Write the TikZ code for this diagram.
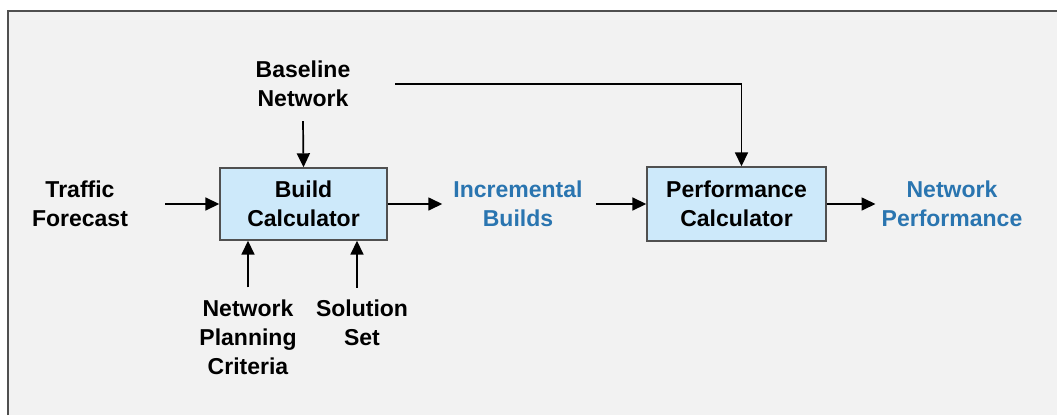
\documentclass[tikz,border=0pt]{standalone}
\usepackage{fontspec}
\setmainfont{Liberation Sans}
\usepackage{xcolor}
\usepackage{tikz}
\usetikzlibrary{arrows.meta, positioning, calc}

\definecolor{pagegray}{HTML}{F2F2F2}
\definecolor{boxblue}{HTML}{CDE9FA}
\definecolor{outblue}{HTML}{2A75B0}
\definecolor{edgegray}{HTML}{505050}

\begin{document}
\begin{tikzpicture}[x=1pt, y=-1pt,
		calcbox/.style={draw=edgegray, line width=1.4pt, fill=boxblue, align=center, inner sep=0pt, font=\bfseries\fontsize{23}{29}\selectfont},
		inlabel/.style={align=center, inner sep=0pt, font=\bfseries\fontsize{23}{29}\selectfont},
		outlabel/.style={inlabel, text=outblue},
		flow/.style={line width=1.7pt, -{Triangle[length=14pt, width=13pt]}}]
	\useasboundingbox (0,0) rectangle (1057,415);
	\fill[pagegray] (8,11) rectangle (1057,415);
	\draw[edgegray, line width=1.2pt] (8,415) |- (1057,11);

	% Calculators
	\node[calcbox, minimum width=167pt, minimum height=72pt] (build) at (303.5,204) {Build\\Calculator};
	\node[calcbox, minimum width=179pt, minimum height=74pt] (perf) at (736.5,204) {Performance\\Calculator};

	% Inputs and outputs
	\node[inlabel] (traffic) at (80,204) {Traffic\\Forecast};
	\node[inlabel] (base) at (303,84) {Baseline\\Network};
	\node[inlabel] (crit) at (248,337) {Network\\Planning\\Criteria};
	\node[inlabel] (sol) at (362,323) {Solution\\Set};
	\node[outlabel] (incr) at (518,204) {Incremental\\Builds};
	\node[outlabel] (netperf) at (952,204) {Network\\Performance};
	\coordinate (basetap) at (395,84);

	% Connectors
	\draw[flow] ([xshift=37pt]traffic.east) -- (build.west);
	\draw[flow] ([yshift=-14pt]base.south) -- (build.north);
	\draw[flow] ([yshift=12pt]crit.north) -- (crit.north |- build.south);
	\draw[flow] ([xshift=-5pt, yshift=12pt]sol.north) -- ([xshift=-5pt]sol.north |- build.south);
	\draw[flow] (build.east) -- ([xshift=-11pt]incr.west);
	\draw[flow] ([xshift=13pt]incr.east) -- (perf.west);
	\draw[flow] (perf.east) -- ([xshift=-6pt]netperf.west);
	\draw[flow] (basetap) -| ([xshift=5pt]perf.north);
\end{tikzpicture}
\end{document}
